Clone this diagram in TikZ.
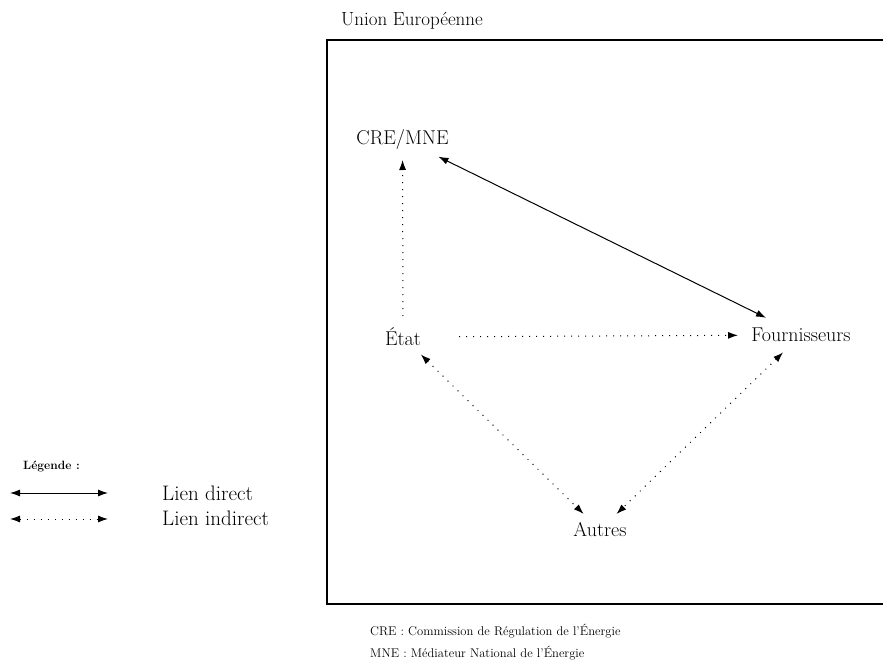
\documentclass[tikz,border=0pt]{standalone}
\usetikzlibrary{arrows.meta}
\begin{document}
\begin{tikzpicture}[x=1pt,y=-1pt,
  tip/.style={-{Latex[length=10pt,width=7pt]}},
  bitip/.style={{Latex[length=10pt,width=7pt]}-{Latex[length=10pt,width=7pt]}},
  solidlink/.style={line width=1pt},
  dotlink/.style={line width=1pt,dash pattern=on 1pt off 6pt},
  actor/.style={font=\fontsize{20}{22}\selectfont,inner sep=0pt},
  legtext/.style={font=\fontsize{21}{23}\selectfont,inner sep=0pt,anchor=base west},
  note/.style={font=\fontsize{12.6}{14}\selectfont,inner sep=0pt,anchor=base west}]
\useasboundingbox (0,0) rectangle (883,661);
% frame
\draw[line width=1.3pt] (327,40) rectangle (895,604);
\node[font=\fontsize{19}{21}\selectfont,inner sep=0pt,anchor=base west] (ue) at (341,26) {Union Européenne};
% actors
\node[actor] (cre) at (402.5,139) {CRE/MNE};
\node[actor] (etat) at (403,337) {État};
\node[actor] (four) at (801,335) {Fournisseurs};
\node[actor] (autres) at (600,530) {Autres};
% links
\draw[solidlink,bitip,shorten <=40pt,shorten >=39pt] (cre.center) -- (four.center);
\draw[dotlink,tip,shorten <=21pt,shorten >=21pt] (etat.center) -- (cre.center);
\draw[dotlink,tip,shorten <=56pt,shorten >=63pt] (etat.center) -- (four.center);
\draw[dotlink,bitip,shorten <=25pt,shorten >=23pt] (etat.center) -- (autres.center);
\draw[dotlink,bitip,shorten <=25pt,shorten >=23pt] (four.center) -- (autres.center);
% legend
\node[font=\bfseries\fontsize{12}{14}\selectfont,inner sep=0pt,anchor=base west] (leg) at (23,469) {Légende :};
\coordinate (d1) at (10,493);
\coordinate (d2) at (108,493);
\coordinate (i1) at (10,519);
\coordinate (i2) at (108,519);
\draw[solidlink,bitip] (d1) -- (d2);
\draw[dotlink,bitip] (i1) -- (i2);
\node[legtext] (ld) at (162,500) {Lien direct};
\node[legtext] (li) at (162,525) {Lien indirect};
% notes
\node[note] (n1) at (370,635) {CRE : Commission de Régulation de l’Énergie};
\node[note] (n2) at (370,657) {MNE : Médiateur National de l’Énergie};
\end{tikzpicture}
\end{document}
